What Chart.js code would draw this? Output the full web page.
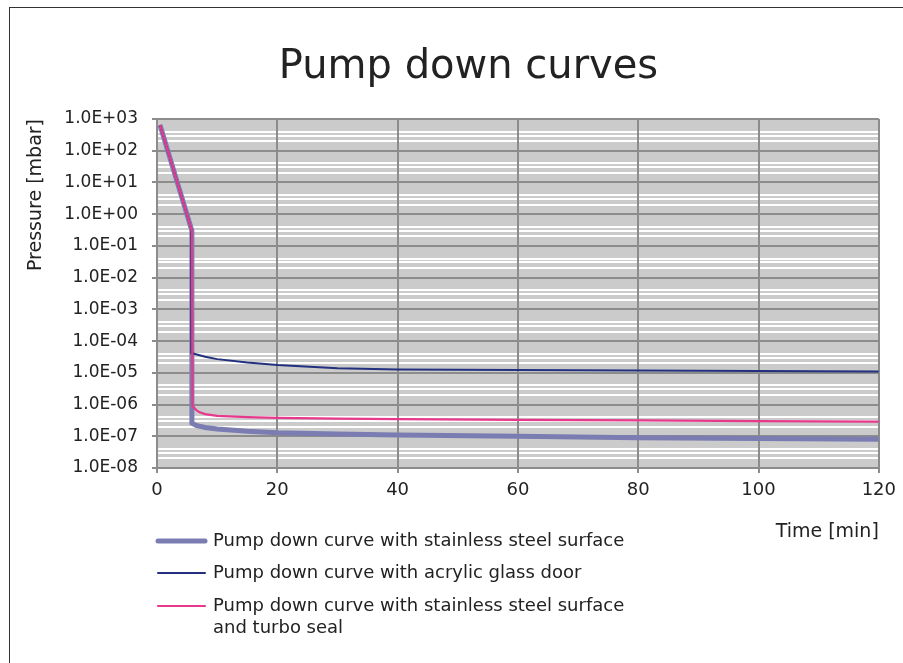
<!DOCTYPE html>
<html>
<head>
<meta charset="utf-8">
<script src="https://cdn.jsdelivr.net/npm/chart.js@4"></script>
<style>
  body { margin: 0; background: #fff; }
  #frame { position: absolute; left: 9px; top: 7px; width: 900px; height: 660px;
           border-left: 1px solid #333; border-top: 1px solid #333; }
  #wrap { position: absolute; left: 0; top: 0; width: 903px; height: 663px; }
</style>
</head>
<body>
<div id="frame"></div>
<div id="wrap"><canvas id="myChart" width="903" height="663"></canvas></div>
<script>
// time [min]
const steelTime  = [0.5, 5.8, 5.8, 6.5, 8, 10, 15, 20, 30, 40, 60, 80, 100, 120];
const steelP     = [650, 0.3, 2.6e-7, 2.2e-7, 1.9e-7, 1.7e-7, 1.45e-7, 1.3e-7, 1.18e-7, 1.1e-7, 1.0e-7, 9.0e-8, 8.5e-8, 8.0e-8];
const acrylTime  = [0.5, 5.8, 5.7, 8, 10, 15, 20, 30, 40, 60, 80, 100, 120];
const acrylP     = [650, 0.3, 4.2e-5, 3.2e-5, 2.7e-5, 2.1e-5, 1.75e-5, 1.4e-5, 1.27e-5, 1.22e-5, 1.18e-5, 1.14e-5, 1.1e-5];
const sealTime   = [0.5, 5.8, 5.9, 6.5, 7, 8, 10, 15, 20, 30, 40, 60, 80, 100, 120];
const sealP      = [650, 0.3, 9e-7, 6.8e-7, 5.8e-7, 5.0e-7, 4.4e-7, 4.0e-7, 3.8e-7, 3.6e-7, 3.45e-7, 3.3e-7, 3.15e-7, 3.0e-7, 2.9e-7];
const seriesNames = [
  'Pump down curve with stainless steel surface',
  'Pump down curve with acrylic glass door',
  ['Pump down curve with stainless steel surface', 'and turbo seal']
];
const xTicks = [0, 20, 40, 60, 80, 100, 120];
const yMinExp = -8, yMaxExp = 3;
const whiteMinors = [2, 3, 4];

const toPts = (xs, ys) => xs.map((x, i) => ({x: x, y: ys[i]}));
const FONT = '"DejaVu Sans", sans-serif';

// gray plot area with white minor lines
const bgPlugin = {
  id: 'plotBg',
  beforeDraw(chart) {
    const {ctx, chartArea: a} = chart;
    const ys = chart.scales.y;
    ctx.save();
    ctx.fillStyle = '#cbcbcb';
    ctx.fillRect(a.left, a.top, a.right - a.left, a.bottom - a.top);
    ctx.strokeStyle = '#ffffff';
    ctx.lineWidth = 2;
    for (let e = yMinExp; e < yMaxExp; e++) {
      whiteMinors.forEach(m => {
        const y = Math.round(ys.getPixelForValue(m * Math.pow(10, e)));
        ctx.beginPath();
        ctx.moveTo(a.left, y);
        ctx.lineTo(a.right, y);
        ctx.stroke();
      });
    }
    ctx.restore();
  }
};

const legendPlugin = {
  id: 'sideLegend',
  afterDraw(chart) {
    const {ctx} = chart;
    const x0 = chart.chartArea.left;
    const rows = [541, 573, 606];
    ctx.save();
    ctx.font = '18px ' + FONT;
    ctx.textBaseline = 'middle';
    ctx.fillStyle = '#222';
    chart.data.datasets.forEach((ds, i) => {
      const y = rows[i];
      ctx.strokeStyle = ds.borderColor;
      ctx.lineWidth = ds.borderWidth;
      ctx.lineCap = 'round';
      ctx.beginPath();
      ctx.moveTo(x0 + 1, y);
      ctx.lineTo(x0 + 48, y);
      ctx.stroke();
      const lines = [].concat(seriesNames[i]);
      lines.forEach((t, j) => ctx.fillText(t, x0 + 56, y + j * 22));
    });
    ctx.restore();
  }
};

const ctx = document.getElementById('myChart').getContext('2d');
new Chart(ctx, {
  type: 'line',
  data: {
    datasets: [
      { data: toPts(steelTime, steelP), borderColor: '#7b7db2', borderWidth: 5, order: 3 },
      { data: toPts(acrylTime, acrylP), borderColor: '#22307f', borderWidth: 2, order: 2 },
      { data: toPts(sealTime, sealP), borderColor: '#e8388b', borderWidth: 2.2, order: 1 }
    ]
  },
  options: {
    responsive: false,
    animation: false,
    elements: { point: { radius: 0 }, line: { tension: 0 } },
    layout: { padding: { left: 45, right: 11, top: 10, bottom: 120 } },
    plugins: {
      legend: { display: false },
      tooltip: { enabled: false },
      title: {
        display: true,
        text: 'Pump down curves',
        color: '#222',
        font: { family: FONT, size: 40, weight: 'normal' },
        padding: { top: 34, bottom: 27 }
      }
    },
    scales: {
      x: {
        type: 'linear',
        min: 0, max: 120,
        afterBuildTicks: s => { s.ticks = xTicks.map(v => ({value: v})); },
        afterFit: s => { s.height = 75; },
        grid: { color: '#8c8c8c', lineWidth: 2, tickLength: 5 },
        border: { color: '#8c8c8c', width: 2 },
        ticks: { color: '#222', padding: 7, font: { family: FONT, size: 18 } },
        title: {
          display: true, text: 'Time [min]', align: 'end', color: '#222',
          font: { family: FONT, size: 19 }, padding: { top: 0, bottom: 0 }
        }
      },
      y: {
        type: 'logarithmic',
        min: Math.pow(10, yMinExp), max: Math.pow(10, yMaxExp),
        afterBuildTicks: s => {
          const t = [];
          for (let e = yMinExp; e <= yMaxExp; e++) t.push({value: Math.pow(10, e)});
          s.ticks = t;
        },
        afterFit: s => { s.width = 112; },
        grid: { color: '#8c8c8c', lineWidth: 2, tickLength: 5 },
        border: { color: '#8c8c8c', width: 2 },
        ticks: {
          autoSkip: false,
          color: '#222',
          padding: 14,
          font: { family: FONT, size: 17 },
          callback: v => Number(v).toExponential(1).toUpperCase().replace(/E([+-])(\d)$/, 'E$10$2')
        },
        title: {
          display: true, text: 'Pressure [mbar]', align: 'end', color: '#222',
          font: { family: FONT, size: 19 }, padding: { top: -20, bottom: 0 }
        }
      }
    }
  },
  plugins: [bgPlugin, legendPlugin]
});
</script>
</body>
</html>
